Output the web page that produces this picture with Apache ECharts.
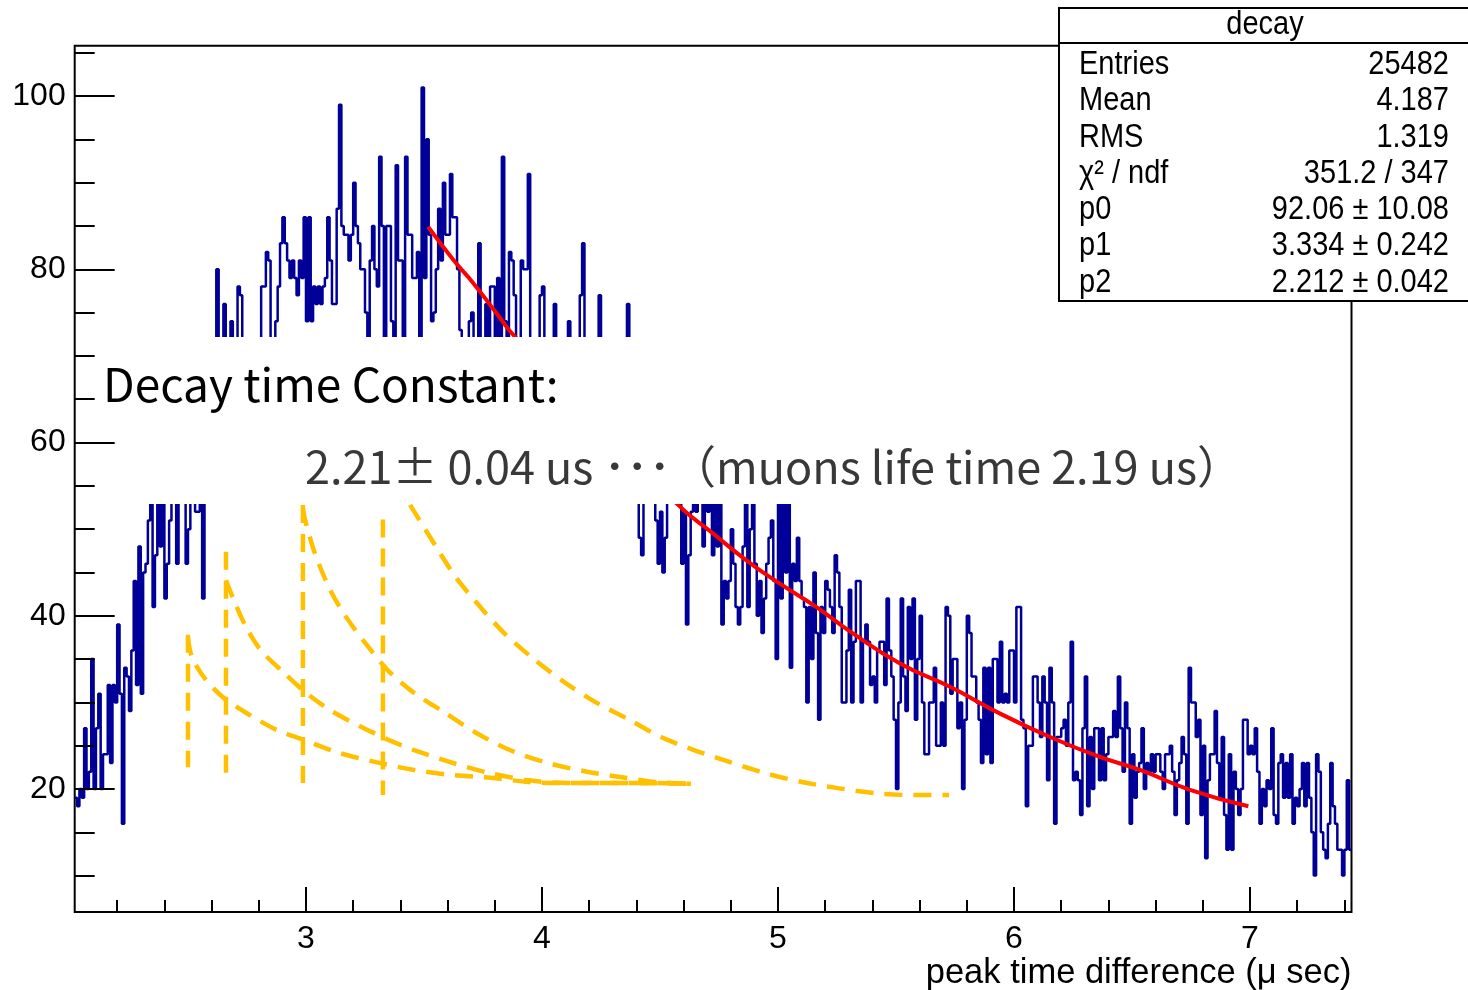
<!DOCTYPE html>
<html><head><meta charset="utf-8">
<script src="https://cdn.jsdelivr.net/npm/echarts@6/dist/echarts.min.js"></script>
<style>html,body{margin:0;padding:0;background:#fff}#c{width:1468px;height:990px}</style>
</head><body><div id="c"></div>
<script>
// ---- data ----
const binStart = 2.02;
const binWidth = 0.01;
const counts = [
19,18,20,19,27,20,22,35,20,27, 31,20,24,24,32,23,32,30,39,31,
16,34,33,29,36,44,32,48,31,45, 46,51,56,41,47,55,48,54,42,46,
51,58,56,46,55,57,54,46,50,58, 56,52,52,54,42,58,62,66,60,68,
80,64,70,76,66,62,74,62,66,78, 77,66,68,63,72,64,60,66,62,78,
78,82,81,68,64,74,78,83,86,83, 81,79,81,79,77,81,79,86,74,86,
74,78,76,78,76,78,79,86,81,76, 76,87,99,85,84,84,81,84,90,85,
83,80,80,75,70,81,85,80,78,93, 85,68,85,85,74,66,92,81,81,70,
93,84,84,79,79,82,70,101,79,95, 84,74,75,80,87,81,90,84,84,91,
86,86,80,73,65,70,62,74,75,66, 70,83,64,68,76,70,78,78,70,79,
72,93,74,67,82,81,77,72,65,81, 80,80,91,60,66,58,64,77,78,62,
66,60,68,76,62,66,59,63,70,74, 64,60,65,68,77,83,62,58,66,60,
64,70,77,61,57,64,60,66,58,62, 56,65,60,63,76,58,62,56,60,49,
47,56,58,62,55,60,51,46,52,45, 49,56,60,57,63,55,54,46,52,39,
47,52,56,52,58,54,48,53,52,56, 47,55,48,54,39,44,42,44,50,46,
41,39,41,48,56,41,50,55,46,40, 44,38,42,46,49,51,44,35,56,42,
58,45,54,34,46,44,49,44,42,41, 30,41,35,45,38,28,41,38,44,43,
41,38,47,45,41,30,30,36,43,30, 37,44,44,30,37,39,37,32,33,30,
36,37,37,32,42,36,33,28,20,30, 42,33,29,41,35,42,28,35,40,30,
24,24,30,30,34,25,25,30,25,41, 40,31,35,35,27,30,20,28,40,38,
33,33,30,28,23,34,24,34,23,35, 35,30,37,30,31,30,36,36,30,41,
41,28,27,18,25,25,33,33,30,26, 33,30,21,34,30,16,26,26,27,28,
25,30,37,21,22,21,17,27,33,18, 26,20,27,27,21,27,21,24,26,26,
29,26,33,27,22,30,27,16,24,19, 22,23,27,20,23,22,24,22,24,24,
22,20,24,24,25,22,17,21,23,26, 24,16,34,30,30,26,28,17,25,12,
21,24,24,29,23,19,26,17,13,24, 13,22,20,17,20,28,28,24,25,24,
27,22,16,20,18,21,20,27,17,16, 23,24,19,23,19,24,16,19,18,20,
23,18,23,19,15,10,24,22,15,13, 12,16,23,18,16,13,13,10,13,21,13
];
// fit curve (x, y)
const fitX = [3.518,3.624,3.709,3.808,3.886,4.569,4.725,4.866,5.008,5.163,5.305,5.517,5.729,5.941,6.153,6.364,6.534,6.746,6.993];
const fitY = [84.9,81.1,78.4,74.9,72.2,53.0,49.5,46.4,43.7,41.0,38.2,34.5,31.8,28.7,26.0,23.7,22.2,19.9,18.0];
// hand-drawn yellow guide curves
const curveA = [[2.500,37.5],[2.517,35.2],[2.576,32.6],[2.648,30.6],[2.746,28.8],[2.877,26.8],[2.987,25.7],[3.136,24.2],[3.297,23.1],[3.458,22.2],[3.623,21.6],[3.784,21.3],[3.945,20.8],[4.106,20.7],[4.271,20.7],[4.479,20.7],[4.631,20.6]];
const curveB = [[2.661,44.1],[2.699,41.5],[2.746,38.7],[2.809,36.0],[2.907,33.4],[2.987,31.4],[3.102,29.1],[3.233,27.2],[3.347,25.7],[3.458,24.5],[3.623,23.0],[3.784,21.8],[3.945,21.0],[4.106,20.7],[4.301,20.7],[4.631,20.6]];
const curveC = [[2.987,52.4],[2.996,51.1],[3.038,47.2],[3.102,43.0],[3.169,39.9],[3.250,36.9],[3.347,33.7],[3.458,31.1],[3.589,28.8],[3.720,26.5],[3.864,24.5],[4.025,23.0],[4.191,22.0],[4.352,21.3],[4.479,20.8],[4.631,20.6]];
const curveD = [[3.441,52.8],[3.555,47.8],[3.636,44.4],[3.742,40.9],[3.847,37.8],[3.970,34.9],[4.102,32.2],[4.229,30.0],[4.369,28.0],[4.504,26.0],[4.644,24.5],[4.797,23.1],[4.949,21.8],[5.102,20.8],[5.254,20.1],[5.419,19.5],[5.572,19.3],[5.725,19.3]];
const vertX = [2.500, 2.661, 2.987, 3.326];
const vertTop = [37.8, 47.4, 52.8, 51.1];
const vertBottom = [22.5, 20.8, 20.7, 19.3];
// axes
const xMin = 2.02, xMax = 7.43, yMin = 5.8, yMax = 105.8;
const xMajor = [3,4,5,6,7];
const xMinor = [2.2,2.4,2.6,2.8,3.2,3.4,3.6,3.8,4.2,4.4,4.6,4.8,5.2,5.4,5.6,5.8,6.2,6.4,6.6,6.8,7.2,7.4];
const yMajor = [20,40,60,80,100];
const yMinor = [10,15,25,30,35,45,50,55,65,70,75,85,90,95,105];
const xTitle = 'peak time difference (μ sec)';
// stats box
const statTitle = 'decay';
const statLabels = ['Entries','Mean','RMS','χ² / ndf','p0','p1','p2'];
const statValues = ['25482','4.187','1.319','351.2 / 347','92.06 ± 10.08','3.334 ± 0.242','2.212 ± 0.042'];
const note1 = 'Decay time Constant:';
const note2 = '2.21± 0.04 us ･･･（muons life time 2.19 us）';

// ---- build ----
const histData = counts.map((v, k) => [+(binStart + k * binWidth).toFixed(2), v]);
histData.push([+(binStart + counts.length * binWidth).toFixed(2), counts[counts.length - 1]]);
const fitData = fitX.map((x, i) => [x, fitY[i]]);

const yellow = '#FFC000';
const dash = [18, 11];
const yellowSeries = [curveA, curveB, curveC, curveD].map(d => ({
  type: 'line', data: d, smooth: 0.3, showSymbol: false, z: 1,
  lineStyle: { color: yellow, width: 4.5, type: dash }, animation: false
}));
const vertSeries = vertX.map((x, i) => ({
  type: 'line', data: [[x, vertTop[i]], [x, vertBottom[i]]], showSymbol: false, z: 1,
  lineStyle: { color: yellow, width: 4.5, type: dash }, animation: false
}));

const FONT = '"Liberation Sans", Arial, sans-serif';
const JP = '"Noto Sans CJK JP", "Noto Sans", sans-serif';
const statRows = [];
statLabels.forEach((lab, i) => {
  const y = 65 + i * 36.3;
  statRows.push({ type: 'text', x: 1079, y: y, z: 101, scaleY: 1.12,
    style: { text: lab, font: '29px ' + FONT, fill: '#000', align: 'left', verticalAlign: 'middle' } });
  statRows.push({ type: 'text', x: 1449, y: y, z: 101, scaleY: 1.12,
    style: { text: statValues[i], font: '29px ' + FONT, fill: '#000', align: 'right', verticalAlign: 'middle' } });
});

const chart = echarts.init(document.getElementById('c'), null, { renderer: 'canvas' });
chart.setOption({
  animation: false,
  backgroundColor: '#fff',
  grid: { left: 74.7, right: 116.5, top: 45.8, bottom: 78, containLabel: false, outerBoundsMode: 'none',
          show: true, borderColor: '#000', borderWidth: 2, backgroundColor: 'transparent' },
  xAxis: [
    { type: 'value', min: xMin, max: xMax, z: 20,
      axisLine: { show: false },
      splitLine: { show: false },
      axisTick: { show: true, inside: true, length: 25, customValues: xMajor, lineStyle: { color: '#000', width: 2 } },
      axisLabel: { customValues: xMajor, color: '#000', fontSize: 32, fontFamily: FONT, margin: 11 },
      name: xTitle, nameLocation: 'end', nameGap: 0, nameMoveOverlap: false,
      nameTextStyle: { fontSize: 34.5, fontFamily: FONT, color: '#000', align: 'right', verticalAlign: 'top', padding: [44, 0, 0, 0] }
    },
    { type: 'value', min: xMin, max: xMax, z: 20, position: 'bottom',
      axisLine: { show: false }, splitLine: { show: false },
      axisTick: { show: true, inside: true, length: 12, customValues: xMinor, lineStyle: { color: '#000', width: 2 } },
      axisLabel: { show: false }
    }
  ],
  yAxis: [
    { type: 'value', min: yMin, max: yMax, z: 20,
      axisLine: { show: false }, splitLine: { show: false },
      axisTick: { show: true, inside: true, length: 40, customValues: yMajor, lineStyle: { color: '#000', width: 2 } },
      axisLabel: { customValues: yMajor, color: '#000', fontSize: 32, fontFamily: FONT, margin: 9 }
    },
    { type: 'value', min: yMin, max: yMax, z: 20, position: 'left', offset: 0,
      axisLine: { show: false }, splitLine: { show: false },
      axisTick: { show: true, inside: true, length: 20, customValues: yMinor, lineStyle: { color: '#000', width: 2 } },
      axisLabel: { show: false }
    }
  ],
  series: [
    ...yellowSeries,
    ...vertSeries,
    { type: 'line', data: histData, step: 'end', showSymbol: false, z: 2,
      lineStyle: { color: '#000099', width: 2.5 }, animation: false },
    { type: 'line', data: fitData, smooth: true, showSymbol: false, z: 3,
      lineStyle: { color: '#ff0000', width: 4 }, animation: false }
  ],
  graphic: [
    { type: 'rect', shape: { x: 78, y: 337, width: 1272, height: 167 }, style: { fill: '#fff' }, z: 10 },
    { type: 'text', x: 103, y: 385, z: 11,
      style: { text: note1, font: '46px ' + JP, fill: '#000', align: 'left', verticalAlign: 'middle' } },
    { type: 'text', x: 305, y: 467, z: 11,
      style: { text: note2, font: '45px ' + JP, fill: '#383838', align: 'left', verticalAlign: 'middle' } },
    { type: 'rect', shape: { x: 1059, y: 8, width: 420, height: 293 }, style: { fill: '#fff', stroke: '#000', lineWidth: 2 }, z: 100 },
    { type: 'line', shape: { x1: 1059, y1: 43, x2: 1468, y2: 43 }, style: { stroke: '#000', lineWidth: 2 }, z: 101 },
    { type: 'text', x: 1265, y: 25, z: 101, scaleY: 1.12,
      style: { text: statTitle, font: '29px ' + FONT, fill: '#000', align: 'center', verticalAlign: 'middle' } },
    ...statRows
  ]
});
</script></body></html>
